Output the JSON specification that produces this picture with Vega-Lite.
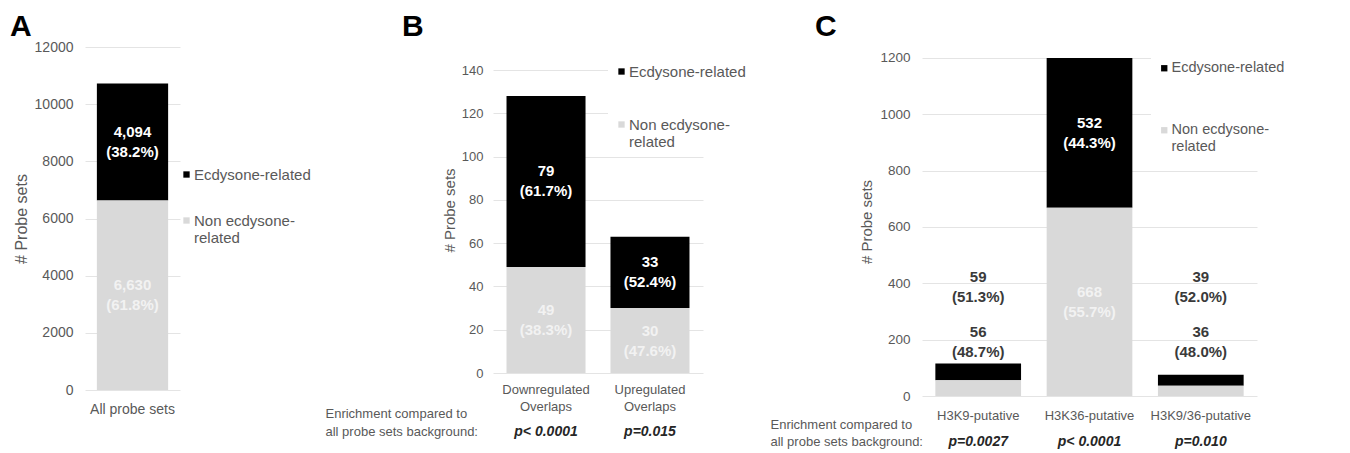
{
  "$schema": "https://vega.github.io/schema/vega-lite/v6.json",
  "padding": {"left": 10, "top": 12, "right": 0, "bottom": 0},
  "background": "white",
  "bounds": "flush",
  "spacing": 0,
  "resolve": {
    "scale": {"color": "independent", "x": "independent", "y": "independent"},
    "legend": {"color": "independent"}
  },
  "config": {
    "view": {"stroke": null},
    "font": "Liberation Sans",
    "axis": {
      "domain": false,
      "ticks": false,
      "labelColor": "#595959",
      "labelFont": "Liberation Sans",
      "titleColor": "#595959",
      "titleFont": "Liberation Sans",
      "titleFontWeight": "normal",
      "gridColor": "#e4e4e4",
      "gridWidth": 1
    },
    "legend": {
      "title": null,
      "orient": "none",
      "symbolType": "square",
      "symbolSize": 40,
      "symbolStrokeWidth": 0,
      "labelColor": "#595959",
      "labelFont": "Liberation Sans",
      "labelOffset": 0,
      "labelLimit": 400,
      "padding": 6
    }
  },
  "hconcat": [
    {
      "width": 408,
      "height": 343,
      "title": {"text": "A", "anchor": "start", "frame": "group", "dx": -75, "offset": -26, "fontSize": 30, "fontWeight": "bold", "color": "black", "font": "Liberation Sans", "baseline": "alphabetic"},
      "data": {"values": [
        {"category": "All probe sets", "group": "Ecdysone-related", "value": 4094, "label": ["4,094", "(38.2%)"]},
        {"category": "All probe sets", "group": "Non ecdysone-related", "value": 6630, "label": ["6,630", "(61.8%)"]}
      ]},
      "encoding": {
        "x": {"field": "category", "type": "nominal", "sort": null,
          "scale": {"range": [0, 95], "paddingInner": 0.25, "paddingOuter": 0.125},
          "axis": {"title": null, "labelAngle": 0, "labelPadding": 12, "labelFontSize": 14}}
      },
      "layer": [
        {
          "mark": {"type": "bar"},
          "encoding": {
            "y": {"field": "value", "type": "quantitative", "stack": "zero",
              "scale": {"domain": [0, 12000], "nice": false},
              "axis": {"values": [0, 2000, 4000, 6000, 8000, 10000, 12000], "format": "d", "title": "# Probe sets", "titleFontSize": 16, "labelFontSize": 14, "labelPadding": 12, "titlePadding": 5}},
            "color": {"field": "group", "type": "nominal",
              "scale": {"domain": ["Ecdysone-related", "Non ecdysone-related"], "range": ["#000000", "#d9d9d9"]},
              "legend": {"legendX": 88, "legendY": 114, "labelFontSize": 15, "rowPadding": 30,
                "labelExpr": "datum.label == 'Non ecdysone-related' ? ['Non ecdysone-', 'related'] : datum.label"}},
            "order": {"field": "group", "sort": "descending"}
          }
        },
        {
          "mark": {"type": "text", "fontSize": 15, "fontWeight": "bold", "lineHeight": 20, "baseline": "middle", "dy": -10},
          "encoding": {
            "y": {"field": "value", "type": "quantitative", "stack": "zero", "bandPosition": 0.5},
            "detail": {"field": "group"},
            "order": {"field": "group", "sort": "descending"},
            "text": {"field": "label"},
            "color": {"condition": {"test": "datum.group == 'Ecdysone-related'", "value": "#ffffff"}, "value": "#f2f2f2"}
          }
        }
      ]
    },
    {
      "width": 429,
      "height": 326,
      "title": {"text": "B", "anchor": "start", "frame": "group", "dx": -91, "offset": -19, "fontSize": 30, "fontWeight": "bold", "color": "black", "font": "Liberation Sans", "baseline": "alphabetic"},
      "data": {"values": [
        {"category": "Downregulated Overlaps", "group": "Ecdysone-related", "value": 79, "label": ["79", "(61.7%)"]},
        {"category": "Downregulated Overlaps", "group": "Non ecdysone-related", "value": 49, "label": ["49", "(38.3%)"]},
        {"category": "Upregulated Overlaps", "group": "Ecdysone-related", "value": 33, "label": ["33", "(52.4%)"]},
        {"category": "Upregulated Overlaps", "group": "Non ecdysone-related", "value": 30, "label": ["30", "(47.6%)"]}
      ]},
      "encoding": {
        "x": {"field": "category", "type": "nominal", "sort": null,
          "scale": {"range": [0, 210], "paddingInner": 0.24, "paddingOuter": 0.13},
          "axis": {"labelAngle": 0, "labelPadding": 10, "labelFontSize": 13, "labelLineHeight": 17,
            "labelExpr": "split(datum.label, ' ')",
            "title": ["Enrichment compared to", "all probe sets background:"],
            "titleX": -168, "titleY": 34, "titleAlign": "left", "titleBaseline": "top", "titleAngle": 0,
            "titleFontSize": 13, "titleLineHeight": 18}}
      },
      "layer": [
        {
          "mark": {"type": "bar"},
          "encoding": {
            "y": {"field": "value", "type": "quantitative", "stack": "zero",
              "scale": {"domain": [0, 150.63], "nice": false},
              "axis": {"values": [0, 20, 40, 60, 80, 100, 120, 140], "title": "# Probe sets", "titleFontSize": 15, "labelFontSize": 13, "labelPadding": 10, "titlePadding": 4}},
            "color": {"field": "group", "type": "nominal",
              "scale": {"domain": ["Ecdysone-related", "Non ecdysone-related"], "range": ["#000000", "#d9d9d9"]},
              "legend": {"legendX": 115, "legendY": 11, "labelFontSize": 15, "rowPadding": 37, "fillColor": "white",
                "labelExpr": "datum.label == 'Non ecdysone-related' ? ['Non ecdysone-', 'related'] : datum.label"}},
            "order": {"field": "group", "sort": "descending"}
          }
        },
        {
          "mark": {"type": "text", "fontSize": 15, "fontWeight": "bold", "lineHeight": 20, "baseline": "middle", "dy": -10},
          "encoding": {
            "y": {"field": "value", "type": "quantitative", "stack": "zero", "bandPosition": 0.5},
            "detail": {"field": "group"},
            "order": {"field": "group", "sort": "descending"},
            "text": {"field": "label"},
            "color": {"condition": {"test": "datum.group == 'Ecdysone-related'", "value": "#ffffff"}, "value": "#f2f2f2"}
          }
        },
        {
          "data": {"values": [
            {"category": "Downregulated Overlaps", "p": "p< 0.0001"},
            {"category": "Upregulated Overlaps", "p": "p=0.015"}
          ]},
          "mark": {"type": "text", "fontSize": 14, "fontWeight": "bold", "fontStyle": "italic", "color": "#262626", "baseline": "middle"},
          "encoding": {
            "y": {"datum": -27.3},
            "text": {"field": "p"}
          }
        }
      ]
    },
    {
      "width": 335,
      "height": 349,
      "title": {"text": "C", "anchor": "start", "frame": "group", "dx": -107, "offset": -19, "fontSize": 30, "fontWeight": "bold", "color": "black", "font": "Liberation Sans", "baseline": "alphabetic"},
      "data": {"values": [
        {"category": "H3K9-putative", "group": "Ecdysone-related", "value": 59, "label": ["59", "(51.3%)"]},
        {"category": "H3K9-putative", "group": "Non ecdysone-related", "value": 56, "label": ["56", "(48.7%)"]},
        {"category": "H3K36-putative", "group": "Ecdysone-related", "value": 532, "label": ["532", "(44.3%)"]},
        {"category": "H3K36-putative", "group": "Non ecdysone-related", "value": 668, "label": ["668", "(55.7%)"]},
        {"category": "H3K9/36-putative", "group": "Ecdysone-related", "value": 39, "label": ["39", "(52.0%)"]},
        {"category": "H3K9/36-putative", "group": "Non ecdysone-related", "value": 36, "label": ["36", "(48.0%)"]}
      ]},
      "encoding": {
        "x": {"field": "category", "type": "nominal", "sort": null,
          "scale": {"range": [0, 335], "paddingInner": 0.23, "paddingOuter": 0.12},
          "axis": {"labelAngle": 0, "labelPadding": 13, "labelFontSize": 13,
            "title": ["Enrichment compared to", "all probe sets background:"],
            "titleX": -152, "titleY": 22, "titleAlign": "left", "titleBaseline": "top", "titleAngle": 0,
            "titleFontSize": 13, "titleLineHeight": 17}}
      },
      "layer": [
        {
          "mark": {"type": "bar"},
          "encoding": {
            "y": {"field": "value", "type": "quantitative", "stack": "zero",
              "scale": {"domain": [0, 1239.05], "nice": false},
              "axis": {"values": [0, 200, 400, 600, 800, 1000, 1200], "format": "d", "title": "# Probe sets", "titleFontSize": 15, "labelFontSize": 13.5, "labelPadding": 12, "titlePadding": 5}},
            "color": {"field": "group", "type": "nominal",
              "scale": {"domain": ["Ecdysone-related", "Non ecdysone-related"], "range": ["#000000", "#d9d9d9"]},
              "legend": {"legendX": 229, "legendY": 8, "labelFontSize": 14.5, "rowPadding": 47, "fillColor": "white",
                "labelExpr": "datum.label == 'Non ecdysone-related' ? ['Non ecdysone-', 'related'] : datum.label"}},
            "order": {"field": "group", "sort": "descending"}
          }
        },
        {
          "transform": [{"filter": "datum.category == 'H3K36-putative'"}],
          "mark": {"type": "text", "fontSize": 15, "fontWeight": "bold", "lineHeight": 20, "baseline": "middle", "dy": -10},
          "encoding": {
            "y": {"field": "value", "type": "quantitative", "stack": "zero", "bandPosition": 0.5},
            "detail": {"field": "group"},
            "order": {"field": "group", "sort": "descending"},
            "text": {"field": "label"},
            "color": {"condition": {"test": "datum.group == 'Ecdysone-related'", "value": "#ffffff"}, "value": "#f2f2f2"}
          }
        },
        {
          "transform": [{"filter": "datum.category != 'H3K36-putative' && datum.group == 'Ecdysone-related'"}],
          "mark": {"type": "text", "fontSize": 15, "fontWeight": "bold", "lineHeight": 20, "baseline": "middle", "color": "#3a3a3a"},
          "encoding": {
            "y": {"datum": 422.5},
            "text": {"field": "label"}
          }
        },
        {
          "transform": [{"filter": "datum.category != 'H3K36-putative' && datum.group == 'Non ecdysone-related'"}],
          "mark": {"type": "text", "fontSize": 15, "fontWeight": "bold", "lineHeight": 20, "baseline": "middle", "color": "#3a3a3a"},
          "encoding": {
            "y": {"datum": 227},
            "text": {"field": "label"}
          }
        },
        {
          "data": {"values": [
            {"category": "H3K9-putative", "p": "p=0.0027"},
            {"category": "H3K36-putative", "p": "p< 0.0001"},
            {"category": "H3K9/36-putative", "p": "p=0.010"}
          ]},
          "mark": {"type": "text", "fontSize": 14, "fontWeight": "bold", "fontStyle": "italic", "color": "#262626", "baseline": "middle"},
          "encoding": {
            "y": {"datum": -163.3},
            "text": {"field": "p"}
          }
        }
      ]
    }
  ]
}
